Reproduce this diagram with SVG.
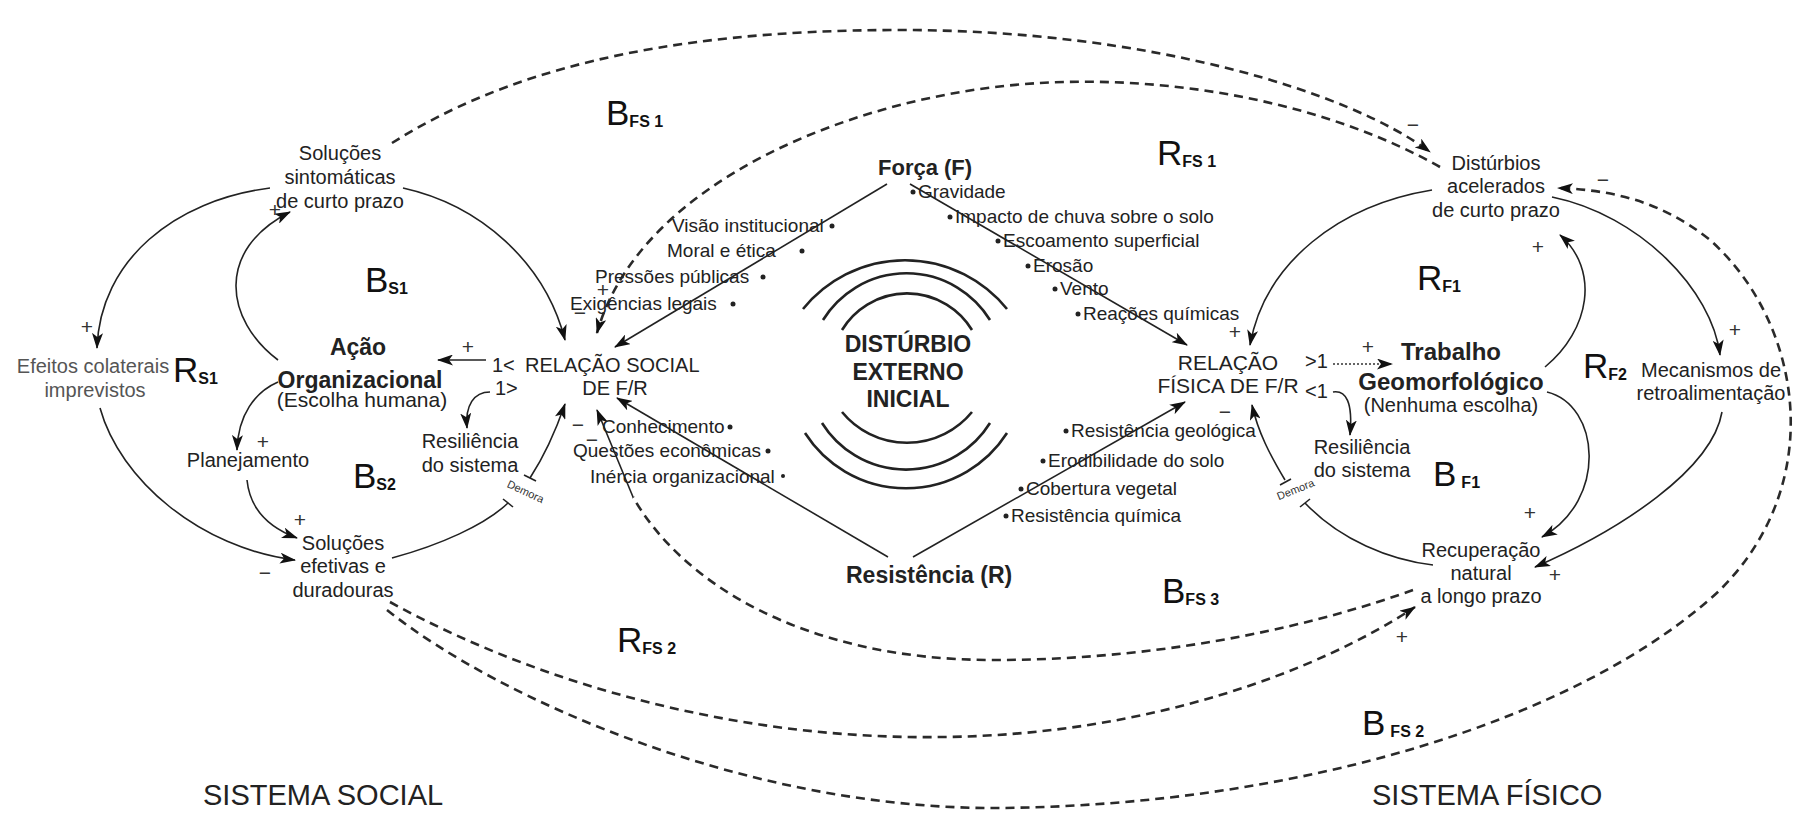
<svg xmlns="http://www.w3.org/2000/svg" width="1798" height="818" viewBox="0 0 1798 818">
<defs>
<style>
.t{font-family:"Liberation Sans",Arial,sans-serif;fill:#222;font-size:20px}
.m{text-anchor:middle}
.l{font-size:19px}
.bd{font-weight:bold}
.gy{fill:#555}
.sg{font-family:"Liberation Sans",Arial,sans-serif;font-size:21px;fill:#333;text-anchor:middle}
.lp{font-family:"Liberation Sans",Arial,sans-serif;font-size:35px;fill:#111}
.sb{font-size:16px;font-weight:bold}
.sys{font-family:"Liberation Sans",Arial,sans-serif;font-size:29px;fill:#222}
.dm{font-family:"Liberation Sans",Arial,sans-serif;font-size:11px;fill:#333;text-anchor:middle}
.c{fill:none;stroke:#222;stroke-width:1.6}
.d{fill:none;stroke:#2a2a2a;stroke-width:2.6;stroke-dasharray:9 6}
.dt{fill:none;stroke:#333;stroke-width:1.4;stroke-dasharray:2 2}
.wv{fill:none;stroke:#222;stroke-width:2.6}
.bar{stroke:#222;stroke-width:1.6}
.bu{fill:#222}
</style>
<marker id="ah" viewBox="0 0 16 11" refX="15" refY="5.5" markerWidth="16" markerHeight="11" markerUnits="userSpaceOnUse" orient="auto">
<path d="M0,0 L16,5.5 L0,11 L4,5.5 z" fill="#111"/>
</marker>
</defs>
<rect width="1798" height="818" fill="#fff"/>

<!-- connectors -->
<g id="connectors">
<!-- social side, solid -->
<path class="c" d="M270,188 C175,200 100,260 97,348" marker-end="url(#ah)"/>
<path class="c" d="M100,408 C120,480 200,548 295,560" marker-end="url(#ah)"/>
<path class="c" d="M278,360 C225,320 215,250 290,212" marker-end="url(#ah)"/>
<path class="c" d="M278,382 C255,392 238,415 237,450" marker-end="url(#ah)"/>
<path class="c" d="M247,480 C250,510 270,528 297,538" marker-end="url(#ah)"/>
<path class="c" d="M403,188 C480,205 545,262 565,340" marker-end="url(#ah)"/>
<path class="c" d="M486,360 L438,360" marker-end="url(#ah)"/>
<path class="c" d="M490,392 C474,392 465,405 467,428" marker-end="url(#ah)"/>
<path class="c" d="M530,478 C545,455 556,430 565,404" marker-end="url(#ah)"/>
<path class="c" d="M392,558 C440,545 485,525 508,503"/>
<line class="bar" x1="524" y1="475" x2="536" y2="481"/>
<line class="bar" x1="503" y1="499" x2="513" y2="507"/>
<path class="c" d="M887,184 L615,347" marker-end="url(#ah)"/>
<path class="c" d="M888,557 L617,398" marker-end="url(#ah)"/>
<path class="c" d="M633,497 L597,410" marker-end="url(#ah)"/>
<!-- physical side, solid -->
<path class="c" d="M910,184 L1187,345" marker-end="url(#ah)"/>
<path class="c" d="M913,557 L1185,402" marker-end="url(#ah)"/>
<path class="c" d="M1432,190 C1340,205 1265,262 1250,345" marker-end="url(#ah)"/>
<path class="c" d="M1285,480 C1270,455 1258,432 1252,405" marker-end="url(#ah)"/>
<path class="c" d="M1433,565 C1390,560 1340,540 1305,503"/>
<line class="bar" x1="1280" y1="485" x2="1291" y2="479"/>
<line class="bar" x1="1300" y1="507" x2="1310" y2="499"/>
<path class="dt" d="M1333,364 L1392,364" marker-end="url(#ah)"/>
<path class="c" d="M1333,392 C1346,390 1353,402 1350,435" marker-end="url(#ah)"/>
<path class="c" d="M1545,367 C1590,330 1600,270 1560,235" marker-end="url(#ah)"/>
<path class="c" d="M1552,197 C1640,215 1712,290 1720,355" marker-end="url(#ah)"/>
<path class="c" d="M1722,412 C1712,470 1620,530 1535,567" marker-end="url(#ah)"/>
<path class="c" d="M1547,392 C1600,405 1608,500 1542,537" marker-end="url(#ah)"/>
<!-- dashed loops linking both systems -->
<path class="d" d="M392,143 C500,75 650,30 900,30 C1150,30 1350,92 1430,152" marker-end="url(#ah)"/>
<path class="d" d="M1440,167 C1330,105 1180,75 1040,83 C860,93 640,180 597,333" marker-end="url(#ah)"/>
<path class="d" d="M1413,590 C1330,620 1180,660 993,660 C800,660 680,580 633,497"/>
<path class="d" d="M390,602 C550,690 750,740 942,737 C1150,735 1320,670 1415,607" marker-end="url(#ah)"/>
<path class="d" d="M387,610 C500,700 750,810 1000,808 C1300,805 1580,720 1720,590 C1830,480 1800,320 1710,240 C1660,200 1610,190 1558,188" marker-end="url(#ah)"/>
</g>

<!-- polarity signs -->
<g id="signs">
<text class="sg" x="87" y="334">+</text>
<text class="sg" x="275" y="217">+</text>
<text class="sg" x="263" y="449">+</text>
<text class="sg" x="300" y="527">+</text>
<text class="sg" x="265" y="580">−</text>
<text class="sg" x="468" y="354">+</text>
<text class="sg" x="603" y="297">+</text>
<text class="sg" x="580" y="320">−</text>
<text class="sg" x="578" y="432">−</text>
<text class="sg" x="592" y="447">−</text>
<text class="sg" x="1413" y="132">−</text>
<text class="sg" x="1603" y="187">−</text>
<text class="sg" x="1235" y="339">+</text>
<text class="sg" x="1225" y="419">−</text>
<text class="sg" x="1368" y="354">+</text>
<text class="sg" x="1538" y="254">+</text>
<text class="sg" x="1735" y="337">+</text>
<text class="sg" x="1530" y="520">+</text>
<text class="sg" x="1555" y="582">+</text>
<text class="sg" x="1402" y="644">+</text>
<text class="dm" transform="translate(524,495) rotate(25)">Demora</text>
<text class="dm" transform="translate(1297,493) rotate(-22)">Demora</text>
</g>

<!-- central disturbance symbol -->
<g id="disturbio">
<path class="wv" d="M803,309 A131,131 0 0 1 1007,309"/>
<path class="wv" d="M823,320 A98,98 0 0 1 990,320"/>
<path class="wv" d="M842,330 A76,76 0 0 1 972,330"/>
<path class="wv" d="M842,412 A84,84 0 0 0 972,412"/>
<path class="wv" d="M822,423 A99,99 0 0 0 990,423"/>
<path class="wv" d="M805,433 A120,120 0 0 0 1007,433"/>
<text class="t m bd" style="font-size:23px" x="908" y="352">DISTÚRBIO</text>
<text class="t m bd" style="font-size:23px" x="908" y="380">EXTERNO</text>
<text class="t m bd" style="font-size:23px" x="908" y="407">INICIAL</text>
</g>

<g id="forca">
<text class="t bd" style="font-size:22px" x="878" y="175">Força (F)</text>
<circle class="bu" cx="913" cy="192" r="2.5"/><text class="t l" x="918" y="198">Gravidade</text>
<circle class="bu" cx="950" cy="217" r="2.5"/><text class="t l" x="955" y="223">Impacto de chuva sobre o solo</text>
<circle class="bu" cx="998" cy="241" r="2.5"/><text class="t l" x="1003" y="247">Escoamento superficial</text>
<circle class="bu" cx="1028" cy="266" r="2.5"/><text class="t l" x="1033" y="272">Erosão</text>
<circle class="bu" cx="1055" cy="289" r="2.5"/><text class="t l" x="1060" y="295">Vento</text>
<circle class="bu" cx="1078" cy="314" r="2.5"/><text class="t l" x="1083" y="320">Reações químicas</text>
<text class="t l" x="672" y="232">Visão institucional</text><circle class="bu" cx="832" cy="226" r="2.5"/>
<text class="t l" x="667" y="257">Moral e ética</text><circle class="bu" cx="802" cy="251" r="2.5"/>
<text class="t l" x="595" y="283">Pressões públicas</text><circle class="bu" cx="763" cy="277" r="2.5"/>
<text class="t l" x="570" y="310">Exigências legais</text><circle class="bu" cx="733" cy="304" r="2.5"/>
</g>

<g id="resistencia">
<text class="t bd" style="font-size:23px" x="846" y="583">Resistência (R)</text>
<circle class="bu" cx="1066" cy="431" r="2.5"/><text class="t l" x="1071" y="437">Resistência geológica</text>
<circle class="bu" cx="1043" cy="461" r="2.5"/><text class="t l" x="1048" y="467">Erodibilidade do solo</text>
<circle class="bu" cx="1021" cy="489" r="2.5"/><text class="t l" x="1026" y="495">Cobertura vegetal</text>
<circle class="bu" cx="1006" cy="516" r="2.5"/><text class="t l" x="1011" y="522">Resistência química</text>
<text class="t l" x="602" y="433">Conhecimento</text><circle class="bu" cx="730" cy="427" r="2.5"/>
<text class="t l" x="573" y="457">Questões econômicas</text><circle class="bu" cx="768" cy="451" r="2.5"/>
<text class="t l" x="590" y="483">Inércia organizacional</text><circle class="bu" cx="783" cy="476" r="2"/>
</g>

<!-- social system nodes -->
<g id="solucoes-sintomaticas">
<text class="t m" x="340" y="160">Soluções</text>
<text class="t m" x="340" y="184">sintomáticas</text>
<text class="t m" x="340" y="208">de curto prazo</text>
</g>
<g id="efeitos-colaterais">
<text class="t m gy" x="93" y="373">Efeitos colaterais</text>
<text class="t m gy" x="95" y="397">imprevistos</text>
</g>
<g id="acao-organizacional">
<text class="t m bd" style="font-size:23px" x="358" y="355">Ação</text>
<text class="t m bd" style="font-size:23px" x="360" y="388">Organizacional</text>
<text class="t m" style="font-size:21px" x="362" y="407">(Escolha humana)</text>
</g>
<g id="planejamento">
<text class="t m" x="248" y="467">Planejamento</text>
</g>
<g id="solucoes-efetivas">
<text class="t m" x="343" y="550">Soluções</text>
<text class="t m" x="343" y="573">efetivas e</text>
<text class="t m" x="343" y="597">duradouras</text>
</g>
<g id="relacao-social">
<text class="t" x="492" y="372">1&lt;</text>
<text class="t" x="525" y="372">RELAÇÃO SOCIAL</text>
<text class="t m" x="615" y="395">DE F/R</text>
<text class="t" x="495" y="395">1&gt;</text>
</g>
<g id="resiliencia-social">
<text class="t m" x="470" y="448">Resiliência</text>
<text class="t m" x="470" y="472">do sistema</text>
</g>

<!-- physical system nodes -->
<g id="disturbios-acelerados">
<text class="t m" x="1496" y="170">Distúrbios</text>
<text class="t m" x="1496" y="193">acelerados</text>
<text class="t m" x="1496" y="217">de curto prazo</text>
</g>
<g id="relacao-fisica">
<text class="t m" style="font-size:21px" x="1228" y="370">RELAÇÃO</text>
<text class="t m" style="font-size:21px" x="1228" y="393">FÍSICA DE F/R</text>
<text class="t" x="1305" y="368">&gt;1</text>
<text class="t" x="1305" y="398">&lt;1</text>
</g>
<g id="trabalho-geomorfologico">
<text class="t m bd" style="font-size:24px" x="1451" y="360">Trabalho</text>
<text class="t m bd" style="font-size:24px" x="1451" y="390">Geomorfológico</text>
<text class="t m" x="1451" y="412">(Nenhuma escolha)</text>
</g>
<g id="resiliencia-fisica">
<text class="t m" x="1362" y="454">Resiliência</text>
<text class="t m" x="1362" y="477">do sistema</text>
</g>
<g id="mecanismos">
<text class="t m" x="1711" y="377">Mecanismos de</text>
<text class="t m" x="1711" y="400">retroalimentação</text>
</g>
<g id="recuperacao-natural">
<text class="t m" x="1481" y="557">Recuperação</text>
<text class="t m" x="1481" y="580">natural</text>
<text class="t m" x="1481" y="603">a longo prazo</text>
</g>

<!-- loop identifiers -->
<g id="loops">
<text class="lp" x="365" y="292">B<tspan class="sb" dy="2">S1</tspan></text>
<text class="lp" x="173" y="382">R<tspan class="sb" dy="2">S1</tspan></text>
<text class="lp" x="353" y="488">B<tspan class="sb" dy="2">S2</tspan></text>
<text class="lp" x="606" y="125">B<tspan class="sb" dy="2">FS 1</tspan></text>
<text class="lp" x="1157" y="165">R<tspan class="sb" dy="2">FS 1</tspan></text>
<text class="lp" x="1417" y="290">R<tspan class="sb" dy="2">F1</tspan></text>
<text class="lp" x="1583" y="378">R<tspan class="sb" dy="2">F2</tspan></text>
<text class="lp" x="1433" y="486">B<tspan class="sb" dx="5" dy="2">F1</tspan></text>
<text class="lp" x="617" y="652">R<tspan class="sb" dy="2">FS 2</tspan></text>
<text class="lp" x="1162" y="603">B<tspan class="sb" dy="2">FS 3</tspan></text>
<text class="lp" x="1362" y="735">B<tspan class="sb" dx="5" dy="2">FS 2</tspan></text>
</g>

<g id="system-labels">
<text class="sys" x="203" y="805">SISTEMA SOCIAL</text>
<text class="sys" x="1372" y="805">SISTEMA FÍSICO</text>
</g>
</svg>
